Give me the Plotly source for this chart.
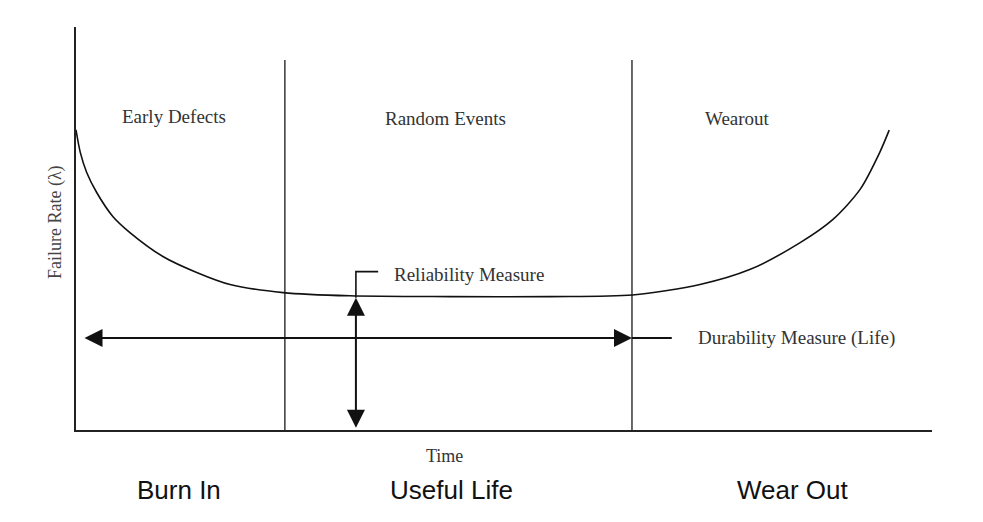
import plotly.graph_objects as go

# ---- data (time and failure-rate in arbitrary 0-100 units) ----
curve_time = [0, 0.5, 1.25, 2.4, 4.3, 6.3, 10.2, 14.1, 18.0, 24.2, 32.0, 43.7,
              55.4, 65.0, 72.9, 78.7, 84.6, 88.4, 91.6, 93.9, 95.0]
curve_rate = [74.5, 68.9, 63.9, 59.0, 53.0, 49.0, 43.0, 39.1, 36.1, 34.1, 33.3, 33.1,
              33.1, 33.5, 36.1, 39.8, 46.5, 52.2, 59.7, 68.9, 74.4]

phase_bounds = [24.4, 64.95]
phase_top = 91.8

phase_names = ["Early Defects", "Random Events", "Wearout"]
phase_name_x = [11.45, 43.2, 77.3]
phase_name_y = [77.9, 77.4, 77.4]

bottom_labels = ["Burn In", "Useful Life", "Wear Out"]
bottom_label_x = [12.0, 43.9, 83.8]

time_label_x = 43.0

durability_start = 0.82
durability_end = 64.95
durability_ext = 69.6
durability_level = 22.8
durability_label = "Durability Measure (Life)"
durability_label_x = 72.4

reliability_t = 32.7
reliability_low = 0.2
reliability_high = 32.8
reliability_bracket_top = 39.3
reliability_bracket_right = 35.3
reliability_label = "Reliability Measure"
reliability_label_x = 36.9
reliability_label_y = 38.7

serif = "Liberation Serif"
sans = "Liberation Sans"

fig = go.Figure()

# phase boundary lines
for b in phase_bounds:
    fig.add_trace(go.Scatter(x=[b, b], y=[0, phase_top], mode="lines",
                             line=dict(color="#444444", width=1.6),
                             hoverinfo="skip", showlegend=False))

# bathtub curve
fig.add_trace(go.Scatter(x=curve_time, y=curve_rate, mode="lines",
                         line=dict(color="#111111", width=1.6, shape="spline", smoothing=0.8),
                         showlegend=False))

# durability extension line
fig.add_trace(go.Scatter(x=[durability_end, durability_ext], y=[durability_level, durability_level],
                         mode="lines", line=dict(color="#111111", width=2),
                         hoverinfo="skip", showlegend=False))

# reliability bracket
fig.add_trace(go.Scatter(x=[reliability_t, reliability_t, reliability_bracket_right],
                         y=[reliability_high, reliability_bracket_top, reliability_bracket_top],
                         mode="lines", line=dict(color="#111111", width=1.6),
                         hoverinfo="skip", showlegend=False))

annotations = []
# double arrows
annotations.append(dict(x=durability_end, y=durability_level, ax=durability_start, ay=durability_level,
                        xref="x", yref="y", axref="x", ayref="y", text="", showarrow=True,
                        arrowside="end+start", arrowhead=2, startarrowhead=2,
                        arrowsize=1.8, startarrowsize=1.8, arrowwidth=2, arrowcolor="#111111"))
annotations.append(dict(x=reliability_t, y=reliability_high, ax=reliability_t, ay=reliability_low,
                        xref="x", yref="y", axref="x", ayref="y", text="", showarrow=True,
                        arrowside="end+start", arrowhead=2, startarrowhead=2,
                        arrowsize=1.8, startarrowsize=1.8, arrowwidth=2, arrowcolor="#111111"))

for name, x, y in zip(phase_names, phase_name_x, phase_name_y):
    annotations.append(dict(x=x, y=y, xref="x", yref="y", text=name, showarrow=False,
                            xanchor="center", yanchor="middle",
                            font=dict(family=serif, size=19, color="#333333")))

annotations.append(dict(x=reliability_label_x, y=reliability_label_y, xref="x", yref="y",
                        text=reliability_label, showarrow=False, xanchor="left", yanchor="middle",
                        font=dict(family=serif, size=19, color="#333333")))
annotations.append(dict(x=durability_label_x, y=durability_level, xref="x", yref="y",
                        text=durability_label, showarrow=False, xanchor="left", yanchor="middle",
                        font=dict(family=serif, size=19, color="#333333")))

annotations.append(dict(x=time_label_x, y=-0.0645, xref="x", yref="paper", text="Time", showarrow=False,
                        xanchor="center", yanchor="middle",
                        font=dict(family=serif, size=18, color="#333333")))
annotations.append(dict(x=-0.0245, y=0.516, xref="paper", yref="paper", text="Failure Rate (λ)",
                        showarrow=False, textangle=-90, xanchor="center", yanchor="middle",
                        font=dict(family=serif, size=18, color="#444444")))

for lab, x in zip(bottom_labels, bottom_label_x):
    annotations.append(dict(x=x, y=-0.149, xref="x", yref="paper", text=lab, showarrow=False,
                            xanchor="center", yanchor="middle",
                            font=dict(family=sans, size=26, color="#111111")))

fig.update_layout(
    width=983, height=522,
    margin=dict(l=76, r=51, t=27, b=92),
    paper_bgcolor="white", plot_bgcolor="white",
    annotations=annotations,
    xaxis=dict(range=[0, 100], showline=True, linecolor="#222222", linewidth=2,
               showgrid=False, zeroline=False, showticklabels=False, ticks=""),
    yaxis=dict(range=[0, 100], showline=True, linecolor="#222222", linewidth=2,
               showgrid=False, zeroline=False, showticklabels=False, ticks=""),
)

fig.write_html("out.html")
